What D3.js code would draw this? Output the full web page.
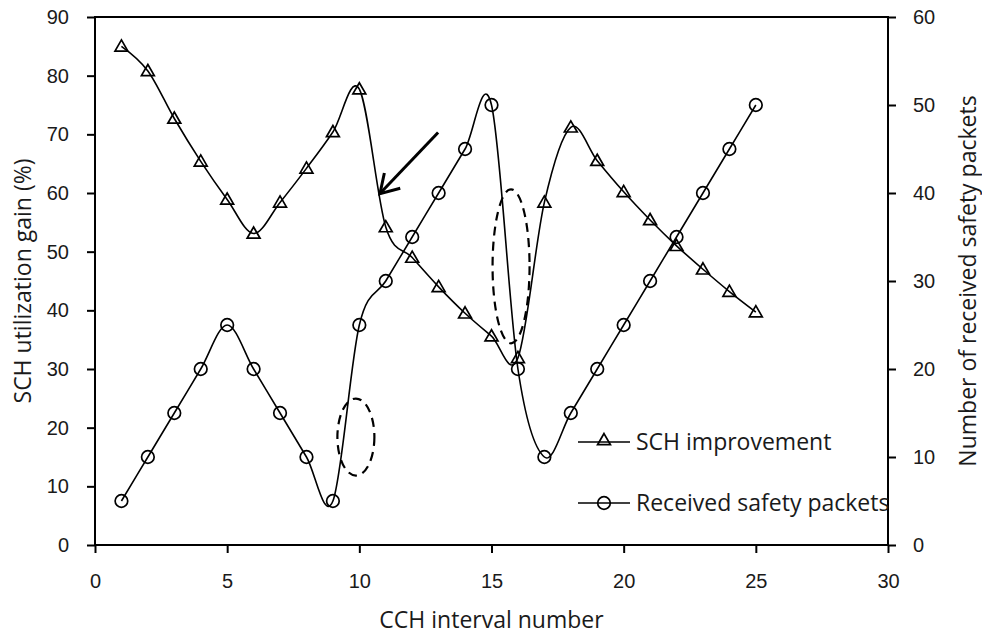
<!DOCTYPE html>
<html>
<head>
<meta charset="utf-8">
<script src="https://cdn.jsdelivr.net/npm/d3@7/dist/d3.min.js"></script>
<style>
  body { margin: 0; background: #fff; }
  svg { font-family: "Open Sans", Lato, sans-serif; }
</style>
</head>
<body>
<svg id="chart" width="982" height="636"></svg>
<script>
// interval numbers
const intervals = d3.range(1, 26);

// SCH utilization gain (%), left axis
const schGain = [85, 80.8, 72.7, 65.4, 58.9, 53.1, 58.4, 64.2, 70.4, 77.7,
  54.2, 49, 44, 39.5, 35.6, 31.9, 58.4, 71.2, 65.5, 60.2,
  55.4, 51, 47, 43.2, 39.7];

// received safety packets, right axis
const received = [5, 10, 15, 20, 25, 20, 15, 10, 5, 25,
  30, 35, 40, 45, 50, 20, 10, 15, 20, 25,
  30, 35, 40, 45, 50];

const xTicks = [0, 5, 10, 15, 20, 25, 30];
const leftTicks = [0, 10, 20, 30, 40, 50, 60, 70, 80, 90];
const rightTicks = [0, 10, 20, 30, 40, 50, 60];

const legendNames = ["SCH improvement", "Received safety packets"];

const svg = d3.select("#chart");
const margin = { left: 95, right: 94, top: 17, bottom: 91 };
const width = 982 - margin.left - margin.right;
const height = 636 - margin.top - margin.bottom;

const g = svg.append("g")
  .attr("transform", "translate(" + margin.left + "," + margin.top + ")");

const x = d3.scaleLinear().domain([0, 30]).range([0, width]);
const yL = d3.scaleLinear().domain([0, 90]).range([height, 0]);
const yR = d3.scaleLinear().domain([0, 60]).range([height, 0]);

// axes
const xAxis = g.append("g")
  .attr("transform", "translate(0," + height + ")")
  .call(d3.axisBottom(x).tickValues(xTicks).tickSize(8).tickPadding(21));
const leftAxis = g.append("g")
  .call(d3.axisLeft(yL).tickValues(leftTicks).tickSize(8).tickPadding(18));
const rightAxis = g.append("g")
  .attr("transform", "translate(" + width + ",0)")
  .call(d3.axisRight(yR).tickValues(rightTicks).tickSize(8).tickPadding(17));

[xAxis, leftAxis, rightAxis].forEach(a => {
  a.select(".domain").remove();
  a.selectAll("line").attr("stroke", "#000").attr("stroke-width", 2);
  a.selectAll("text").attr("fill", "#1a1a1a").style("font-size", "20px");
});

// frame
g.append("rect")
  .attr("width", width).attr("height", height)
  .attr("fill", "none").attr("stroke", "#000").attr("stroke-width", 2);

// axis titles
svg.append("text")
  .attr("transform", "translate(31," + (margin.top + height / 2) + ") rotate(-90)")
  .attr("text-anchor", "middle")
  .style("font-size", "23px").attr("fill", "#1a1a1a")
  .text("SCH utilization gain (%)");
svg.append("text")
  .attr("transform", "translate(976," + (margin.top + height / 2) + ") rotate(-90)")
  .attr("text-anchor", "middle")
  .style("font-size", "23px").attr("fill", "#1a1a1a")
  .text("Number of received safety packets");
svg.append("text")
  .attr("x", margin.left + width / 2).attr("y", 628)
  .attr("text-anchor", "middle")
  .style("font-size", "23px").attr("fill", "#1a1a1a")
  .text("CCH interval number");

// smoothed lines
const curve = d3.curveCatmullRom.alpha(0);
const lineL = d3.line().x((d, i) => x(intervals[i])).y(d => yL(d)).curve(curve);
const lineR = d3.line().x((d, i) => x(intervals[i])).y(d => yR(d)).curve(curve);

g.append("path").attr("d", lineL(schGain))
  .attr("fill", "none").attr("stroke", "#000").attr("stroke-width", 1.6);
g.append("path").attr("d", lineR(received))
  .attr("fill", "none").attr("stroke", "#000").attr("stroke-width", 1.6);

const tri = d3.symbol().type(d3.symbolTriangle).size(72);

g.selectAll(".tri").data(schGain).enter().append("path")
  .attr("d", tri)
  .attr("transform", (d, i) => "translate(" + x(intervals[i]) + "," + (yL(d) + 1) + ")")
  .attr("fill", "none").attr("stroke", "#000").attr("stroke-width", 1.7);

g.selectAll(".circ").data(received).enter().append("circle")
  .attr("cx", (d, i) => x(intervals[i]))
  .attr("cy", d => yR(d))
  .attr("r", 6.3)
  .attr("fill", "none").attr("stroke", "#000").attr("stroke-width", 1.7);

// annotations: dashed ellipses (centre in data units, radii in px) and arrow
const ellipses = [
  { cx: 9.87, cy: 18.4, rx: 18.5, ry: 38.5 },
  { cx: 15.74, cy: 47.5, rx: 18.5, ry: 77 }
];
g.selectAll(".ell").data(ellipses).enter().append("ellipse")
  .attr("cx", d => x(d.cx)).attr("cy", d => yL(d.cy))
  .attr("rx", d => d.rx).attr("ry", d => d.ry)
  .attr("fill", "none").attr("stroke", "#000")
  .attr("stroke-width", 2.2).attr("stroke-dasharray", "9,6");

const arrowFrom = [12.98, 70.3];
const arrowTo = [10.78, 59.9];
const ax0 = x(arrowFrom[0]), ay0 = yL(arrowFrom[1]);
const ax1 = x(arrowTo[0]), ay1 = yL(arrowTo[1]);
g.append("line")
  .attr("x1", ax0).attr("y1", ay0).attr("x2", ax1).attr("y2", ay1)
  .attr("stroke", "#000").attr("stroke-width", 3);
const ang = Math.atan2(ay0 - ay1, ax0 - ax1);
const headLen = 21, spread = 0.55;
const head = [ang - spread, ang + spread].map(a => [ax1 + headLen * Math.cos(a), ay1 + headLen * Math.sin(a)]);
g.append("path")
  .attr("d", "M" + head[0] + "L" + ax1 + "," + ay1 + "L" + head[1])
  .attr("fill", "none").attr("stroke", "#000").attr("stroke-width", 3);

// legend
const legend = svg.append("g");
legendNames.forEach((name, i) => {
  const ly = 442 + i * 61;
  legend.append("line")
    .attr("x1", 578).attr("x2", 630).attr("y1", ly).attr("y2", ly)
    .attr("stroke", "#000").attr("stroke-width", 1.6);
  if (i === 0) {
    legend.append("path").attr("d", tri)
      .attr("transform", "translate(604," + (ly - 1) + ")")
      .attr("fill", "none").attr("stroke", "#000").attr("stroke-width", 1.7);
  } else {
    legend.append("circle").attr("cx", 604).attr("cy", ly).attr("r", 6.3)
      .attr("fill", "none").attr("stroke", "#000").attr("stroke-width", 1.7);
  }
  legend.append("text")
    .attr("x", 636).attr("y", ly + 8)
    .style("font-size", "23px").attr("fill", "#1a1a1a")
    .text(name);
});
</script>
</body>
</html>
